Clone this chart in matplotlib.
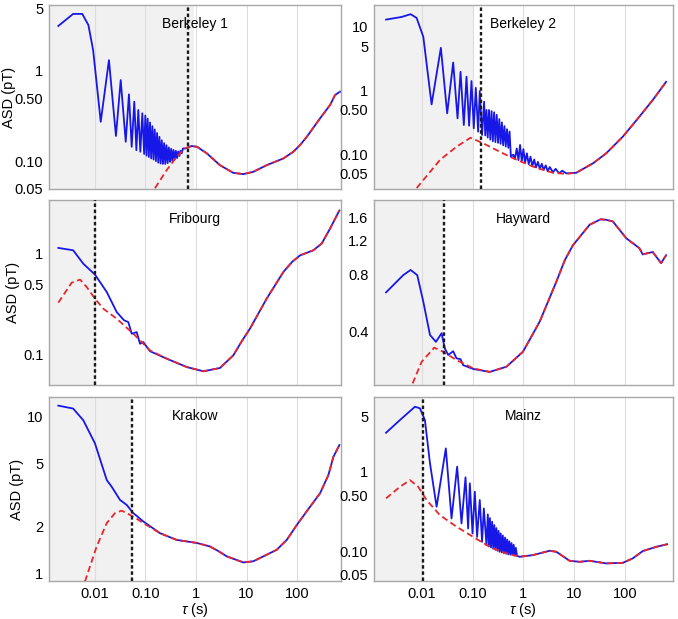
import matplotlib
matplotlib.use('Agg')
import matplotlib.pyplot as plt
import numpy as np

plt.rcParams['font.family'] = ['Liberation Sans', 'DejaVu Sans']
plt.rcParams['mathtext.fontset'] = 'custom'
plt.rcParams['mathtext.rm'] = 'Liberation Sans'
plt.rcParams['mathtext.it'] = 'Liberation Sans:italic'

# x axis (tau, s)
x_ticks = [0.01, 0.1, 1, 10, 100]
x_labels = ['0.01', '0.10', '1', '10', '100']

# Berkeley 1
b1_tau_blue = [0.00188, 0.0037, 0.0056, 0.0074, 0.0092, 0.013, 0.0189, 0.026, 0.0323, 0.0406,
               0.047, 0.0533, 0.060, 0.066, 0.072, 0.079, 0.0865,
               0.094, 0.0992, 0.1046, 0.1104, 0.1165, 0.1229, 0.1296, 0.1368, 0.1443, 0.1522,
               0.1606, 0.1694, 0.1788, 0.1886, 0.199, 0.2099, 0.2215, 0.2337, 0.2465, 0.2601,
               0.2744, 0.2895, 0.3054, 0.3222, 0.3399, 0.3586, 0.3783, 0.3991, 0.4211, 0.4442,
               0.4687, 0.4945, 0.5217, 0.5504]
b1_asd_blue = [3.16, 4.3, 4.3, 3.24, 1.7, 0.273, 1.32, 0.19, 0.794, 0.164,
               0.55, 0.144, 0.456, 0.132, 0.369, 0.127, 0.339,
               0.120, 0.32, 0.115, 0.295, 0.111, 0.268, 0.107, 0.244, 0.104, 0.224,
               0.100, 0.205, 0.096, 0.186, 0.094, 0.17, 0.093, 0.158, 0.093, 0.15,
               0.095, 0.142, 0.098, 0.137, 0.100, 0.133, 0.104, 0.13, 0.108, 0.128,
               0.114, 0.13, 0.122, 0.138]
b1_tau_red = [0.154, 0.263, 0.415, 0.605, 0.82, 1.05, 1.63, 2.98, 5.48, 8.65, 13.6, 25,
              53.6, 84.6, 115, 156, 285, 450, 565, 710]
b1_asd_red = [0.05, 0.0794, 0.112, 0.138, 0.147, 0.144, 0.122, 0.090, 0.074, 0.0717, 0.076, 0.090,
              0.107, 0.127, 0.151, 0.186, 0.298, 0.419, 0.541, 0.59]

# Berkeley 2
b2_tau_blue = [0.0020, 0.00405, 0.00608, 0.00798, 0.0108, 0.0157, 0.0239, 0.0318, 0.0417, 0.0508,
               0.0582, 0.0675, 0.0762, 0.0857, 0.0955, 0.106, 0.116, 0.129, 0.139, 0.154,
               0.169, 0.178, 0.188, 0.199, 0.211, 0.224, 0.237, 0.251, 0.266, 0.282,
               0.299, 0.317, 0.336, 0.356, 0.378, 0.40, 0.424, 0.45, 0.477, 0.505,
               0.535, 0.567, 0.63, 0.68, 0.74, 0.80, 0.86, 0.93, 1.0, 1.08,
               1.17, 1.27, 1.38, 1.5, 1.63, 1.77, 1.93, 2.1, 2.3, 2.5,
               2.75, 3.0, 3.3, 3.8, 4.3, 5.0, 5.8, 6.96]
b2_asd_blue = [13.0, 14.3, 15.8, 13.8, 6.98, 0.612, 4.7, 0.443, 2.77, 0.37,
               1.98, 0.291, 1.66, 0.284, 1.42, 0.258, 1.11, 0.229, 0.99, 0.203,
               0.673, 0.20, 0.50, 0.185, 0.50, 0.172, 0.48, 0.162, 0.46, 0.157,
               0.42, 0.153, 0.36, 0.148, 0.32, 0.14, 0.28, 0.134, 0.25, 0.128,
               0.23, 0.093, 0.10, 0.086, 0.125, 0.082, 0.142, 0.079, 0.122, 0.075,
               0.105, 0.071, 0.093, 0.066, 0.084, 0.063, 0.077, 0.060, 0.072, 0.058,
               0.068, 0.055, 0.064, 0.053, 0.060, 0.051, 0.056, 0.051]
b2_tau_red = [0.008, 0.0229, 0.0485, 0.0912, 0.161, 0.343, 0.625, 1.54, 3.8, 6.96, 10.9, 23.2,
              42.4, 89.8, 190, 348, 637]
b2_asd_red = [0.03, 0.0826, 0.133, 0.184, 0.151, 0.111, 0.088, 0.065, 0.052, 0.050, 0.052, 0.073,
              0.105, 0.191, 0.393, 0.716, 1.38]

# Fribourg
fr_tau_blue = [0.00188, 0.0037, 0.00586, 0.01, 0.0171, 0.0269, 0.0375, 0.0457, 0.0533, 0.067,
               0.0779, 0.0904, 0.123]
fr_asd_blue = [1.14, 1.08, 0.796, 0.62, 0.417, 0.264, 0.219, 0.21, 0.161, 0.167,
               0.128, 0.133, 0.108]
fr_tau_red = [0.00188, 0.00346, 0.00505, 0.00686, 0.01, 0.0146, 0.0269, 0.0574, 0.123, 0.263,
              0.655, 1.4, 2.98, 5.48, 8.0, 11.7, 25, 53.6, 80, 115, 210, 308, 450, 689]
fr_asd_red = [0.327, 0.516, 0.553, 0.467, 0.358, 0.285, 0.227, 0.161, 0.110, 0.0912,
              0.0753, 0.0684, 0.0737, 0.0984, 0.135, 0.181, 0.358, 0.658, 0.83, 0.962,
              1.08, 1.26, 1.77, 2.68]

# Hayward
hw_tau_blue = [0.002, 0.00436, 0.00608, 0.0082, 0.0108, 0.0146, 0.0191, 0.0247, 0.0286, 0.0333,
               0.0417, 0.0485, 0.0582, 0.0655, 0.103]
hw_asd_blue = [0.644, 0.794, 0.845, 0.794, 0.575, 0.385, 0.354, 0.393, 0.327, 0.302,
               0.316, 0.29, 0.287, 0.267, 0.255]
hw_tau_red = [0.00666, 0.01, 0.0177, 0.0265, 0.0485, 0.103, 0.218, 0.464, 0.98, 2.09, 4.44,
              6.5, 9.4, 20, 33, 42.4, 57.2, 105, 190, 221, 348, 508, 637]
hw_asd_red = [0.214, 0.278, 0.33, 0.314, 0.284, 0.257, 0.246, 0.262, 0.314, 0.452, 0.733,
              0.95, 1.14, 1.46, 1.56, 1.55, 1.52, 1.24, 1.10, 1.02, 1.05, 0.917, 1.01]

# Krakow
kr_tau_blue = [0.00188, 0.0037, 0.00586, 0.01, 0.0171, 0.0214, 0.0313, 0.0425, 0.0574, 0.0904]
kr_asd_blue = [11.8, 11.3, 9.52, 6.76, 3.94, 3.57, 2.94, 2.73, 2.42, 2.14]
kr_tau_red = [0.00634, 0.0108, 0.0171, 0.0249, 0.0338, 0.0574, 0.0904, 0.194, 0.415, 1.03, 1.89,
              2.8, 4.05, 8.65, 13.6, 25, 39.6, 62.5, 98.6, 181, 285, 417, 524, 689]
kr_asd_red = [0.884, 1.48, 2.09, 2.42, 2.51, 2.30, 2.09, 1.80, 1.63, 1.56, 1.48,
              1.38, 1.28, 1.17, 1.19, 1.31, 1.41, 1.63, 2.03, 2.66, 3.24, 4.24, 5.55, 6.6]

# Mainz
mz_tau_blue = [0.002, 0.00376, 0.0074, 0.00927, 0.0116, 0.0146, 0.0197, 0.0299, 0.0387, 0.0499,
               0.0608, 0.0729, 0.082, 0.0886, 0.1, 0.111, 0.123, 0.139, 0.154, 0.167,
               0.188, 0.2, 0.21, 0.22, 0.231, 0.243, 0.255, 0.268, 0.281, 0.295,
               0.31, 0.325, 0.341, 0.358, 0.376, 0.395, 0.415, 0.436, 0.458, 0.481,
               0.505, 0.53, 0.557, 0.585, 0.614, 0.645, 0.677, 0.71, 0.75]
mz_asd_blue = [3.1, 4.49, 6.6, 6.3, 4.49, 1.28, 0.362, 1.97, 0.258, 1.16,
               0.223, 0.85, 0.193, 0.714, 0.167, 0.56, 0.151, 0.44, 0.131, 0.345,
               0.119, 0.29, 0.115, 0.26, 0.111, 0.235, 0.107, 0.213, 0.104, 0.195,
               0.101, 0.18, 0.098, 0.167, 0.096, 0.157, 0.094, 0.148, 0.093, 0.14,
               0.091, 0.133, 0.09, 0.126, 0.089, 0.12, 0.088, 0.11, 0.087]
mz_tau_red = [0.002, 0.00376, 0.0059, 0.00858, 0.0125, 0.0229, 0.0485, 0.103, 0.218, 0.464, 0.845,
              1.54, 3.28, 4.44, 8.1, 12.7, 20, 42.4, 89.8, 141, 221, 405, 667]
mz_asd_red = [0.462, 0.647, 0.785, 0.647, 0.44, 0.284, 0.203, 0.151, 0.113, 0.0935, 0.0848,
              0.089, 0.101, 0.098, 0.0755, 0.0733, 0.0755, 0.07, 0.0712, 0.081, 0.1, 0.113, 0.122]

BLUE = '#1717e8'
RED = '#e8262b'
SHADE = '#f1f1f1'
FRAME = '#a8a8a8'
GRID = '#dddddd'

W, H = 678, 619
fig = plt.figure(figsize=(W / 100, H / 100), dpi=100)


def axes_at(x0, y0, x1, y1):
    # pixel box -> figure fraction
    return fig.add_axes([x0 / W, 1 - y1 / H, (x1 - x0) / W, (y1 - y0) / H])


def draw_panel(ax, name, tau_b, asd_b, tau_r, asd_r, xlim, ylim, yticks, ylabels,
               cut, shade_end, bottom):
    ax.set_xscale('log')
    ax.set_yscale('log')
    ax.set_xlim(*xlim)
    ax.set_ylim(*ylim)
    ax.axvspan(xlim[0], shade_end, color=SHADE, lw=0, zorder=0)
    for t in x_ticks:
        ax.axvline(t, color=GRID, lw=0.8, zorder=0.5)

    tb, ab = np.asarray(tau_b), np.asarray(asd_b)
    tr, ar = np.asarray(tau_r), np.asarray(asd_r)
    keep = tr > tb[-1]
    ax.plot(np.r_[tb, tr[keep]], np.r_[ab, ar[keep]], color=BLUE, lw=1.3, zorder=2)
    ax.plot(tr, ar, color=RED, lw=1.3, dashes=(3.5, 2.0), zorder=3)
    ax.axvline(cut, color='#1a1a1a', lw=1.7, dashes=(1.5, 1.1), zorder=4)

    ax.text(0.5, 0.895, name, transform=ax.transAxes, ha='center', va='center', fontsize=10)

    ax.minorticks_off()
    ax.set_yticks(yticks)
    ax.set_yticklabels(ylabels)
    ax.set_xticks(x_ticks)
    ax.set_xticklabels(x_labels if bottom else [])
    ax.tick_params(length=0, labelsize=10.5, pad=4)
    for s in ax.spines.values():
        s.set_color(FRAME)
        s.set_linewidth(1.0)


xl_left = (0.00123, 741)
xl_right = (0.00116, 870)
y_log_std = ['0.05', '0.10', '0.50', '1', '5']

ax = axes_at(49, 5, 341, 189)
draw_panel(ax, 'Berkeley 1', b1_tau_blue, b1_asd_blue, b1_tau_red, b1_asd_red,
           xl_left, (0.049, 5.4), [0.05, 0.1, 0.5, 1, 5], y_log_std,
           0.69, 0.92, False)

ax = axes_at(374, 5, 673, 189)
draw_panel(ax, 'Berkeley 2', b2_tau_blue, b2_asd_blue, b2_tau_red, b2_asd_red,
           xl_right, (0.029, 22), [0.05, 0.1, 0.5, 1, 5, 10], y_log_std + ['10'],
           0.15, 0.1, False)

ax = axes_at(49, 200, 341, 385)
draw_panel(ax, 'Fribourg', fr_tau_blue, fr_asd_blue, fr_tau_red, fr_asd_red,
           xl_left, (0.05, 3.4), [0.1, 0.5, 1], ['0.1', '0.5', '1'],
           0.01, 0.01, False)

ax = axes_at(374, 200, 673, 385)
draw_panel(ax, 'Hayward', hw_tau_blue, hw_asd_blue, hw_tau_red, hw_asd_red,
           xl_right, (0.21, 1.97), [0.4, 0.8, 1.2, 1.6], ['0.4', '0.8', '1.2', '1.6'],
           0.027, 0.027, False)

ax = axes_at(49, 397, 341, 581)
draw_panel(ax, 'Krakow', kr_tau_blue, kr_asd_blue, kr_tau_red, kr_asd_red,
           xl_left, (0.89, 13.4), [1, 2, 5, 10], ['1', '2', '5', '10'],
           0.053, 0.053, True)

ax = axes_at(374, 397, 673, 581)
draw_panel(ax, 'Mainz', mz_tau_blue, mz_asd_blue, mz_tau_red, mz_asd_red,
           xl_right, (0.042, 8.75), [0.05, 0.1, 0.5, 1, 5], y_log_std,
           0.0105, 0.0105, True)

# shared axis titles placed like the original layout
for x_px, y_px in [(9, 97), (13, 292), (17, 489)]:
    fig.text(x_px / W, 1 - y_px / H, 'ASD (pT)', rotation=90, ha='center', va='center', fontsize=10.5)
for x_px in [195, 523]:
    fig.text(x_px / W, 1 - 610 / H, r'$\tau$ (s)', ha='center', va='center', fontsize=10.5)

fig.savefig('out.png', dpi=100)
